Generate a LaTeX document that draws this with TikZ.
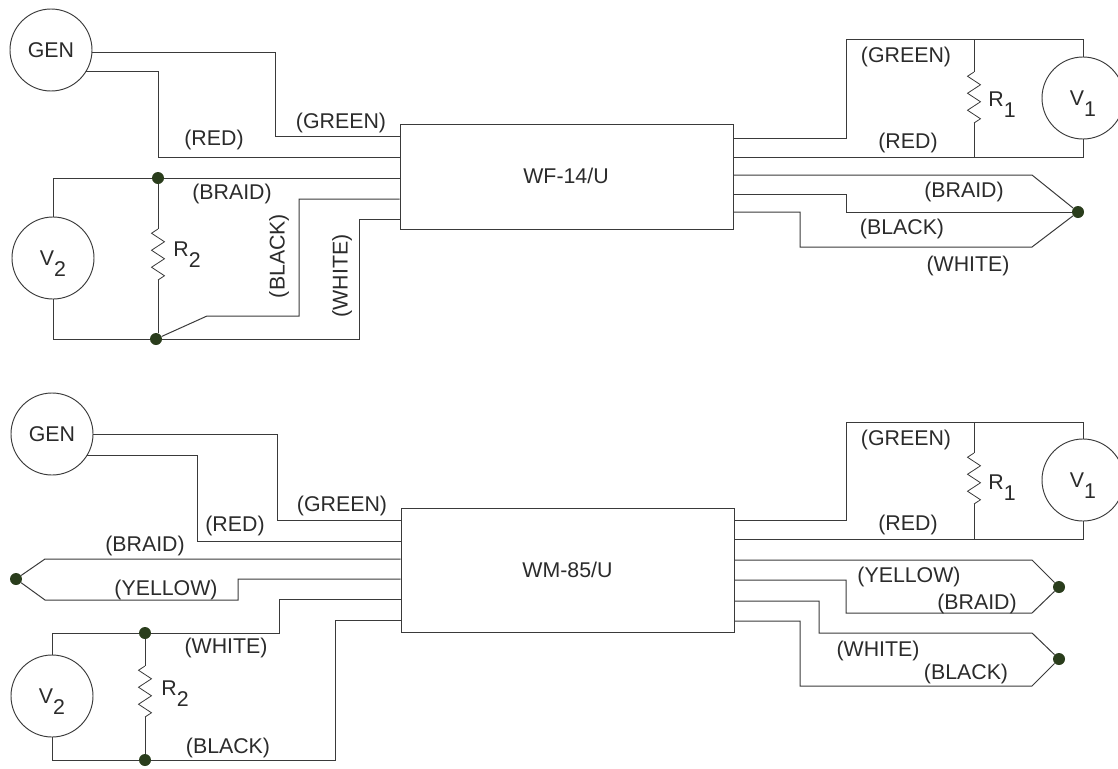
\documentclass[tikz,border=0pt]{standalone}
\usepackage{fontspec}
\setmainfont{Liberation Sans}
\definecolor{wirecol}{HTML}{3A3A3A}
\definecolor{inkcol}{HTML}{2B2B2B}
\definecolor{dotcol}{HTML}{2A3D1C}
\newcommand{\lowsub}[1]{\smash{\raisebox{-8pt}{#1}}}
\tikzset{
	wire/.style={draw=wirecol,line width=0.75pt},
	meter/.style={circle,draw=wirecol,line width=0.7pt,minimum size=61.5pt,inner sep=0pt,fill=white,text=inkcol,font=\fontsize{16}{18}\selectfont},
	unit/.style={rectangle,draw=wirecol,line width=0.75pt,minimum width=249.75pt,inner sep=0pt},
	tag/.style={inner sep=0pt,text=inkcol,yshift=-1.5pt,font=\fontsize{16}{18}\selectfont},
	joint/.style={circle,fill=dotcol,minimum size=9pt,inner sep=0pt},
	zigres/.pic={\draw[wirecol,line width=0.6pt] (0,0) -- ++(-6.5,4.25) -- ++(13,8.5) -- ++(-13,8.5) -- ++(13,8.5) -- ++(-13,8.5) -- ++(13,8.5) -- (0,51);}
}
\begin{document}
\begin{tikzpicture}[x=0.75pt,y=-0.75pt]
	\useasboundingbox (0,0) rectangle (1118,768);
	% upper circuit
	\node[unit,minimum height=78.75pt] (wf) at (566.5,176.5) {};
	\node[tag] (wflabel) at (566,174) {WF-14/U};
	\node[meter] (gena) at (51,50) {GEN};
	\node[meter] (vtwoa) at (53,258) {V\lowsub{2}};
	\node[meter] (vonea) at (1083,98) {V\lowsub{1}};
	\node[joint] (ja) at (158,178) {};
	\node[joint] (jb) at (156,339) {};
	\node[joint] (jc) at (1078,212) {};
	\coordinate (rtwoat) at (158,229);
	\coordinate (rtwoab) at (158,280);
	\coordinate (ronea) at (974,39);
	\coordinate (roneb) at (974,157);
	\draw[wire] (gena.-3) -| (275,136) -- (wf.west |- 0,136);
	\draw[wire] (gena.-32) -| (158,157) -- (wf.west |- 0,157);
	\draw[wire] (vtwoa.north) |- (ja) -- (wf.west |- ja);
	\draw[wire] (vtwoa.south) |- (jb);
	\draw[wire] (jb) -- (207,316) -| (299,199) -- (wf.west |- 0,199);
	\draw[wire] (jb) -- (359,339) -- (359,219) -- (wf.west |- 0,219);
	\draw[wire] (ja) -- (rtwoat) pic {zigres};
	\draw[wire] (rtwoab) -- (jb.north -| rtwoab);
	\draw[wire] (wf.east |- 0,138) -| (846,39) -| (vonea.north);
	\draw[wire] (wf.east |- 0,157) -| (vonea.south);
	\draw[wire] (ronea) -- (974,72) pic {zigres};
	\draw[wire] (974,123) -- (roneb);
	\draw[wire] (wf.east |- 0,175) -- (1032,175) -- (jc);
	\draw[wire] (wf.east |- 0,194) -| (846,212) -- (jc);
	\draw[wire] (wf.east |- 0,212) -| (800,247) -- (1032,247) -- (jc);
	\node[tag] (lgreena) at (341,121) {(GREEN)};
	\node[tag] (lreda) at (214,138) {(RED)};
	\node[tag] (lbraida) at (232,192) {(BRAID)};
	\node[tag,rotate=90,xshift=1.5pt] (lblacka) at (279,256) {(BLACK)};
	\node[tag,rotate=90,xshift=1.5pt] (lwhitea) at (342,276) {(WHITE)};
	\node[tag] (rtwoa) at (187,247) {R\lowsub{2}};
	\node[tag] (lgreenb) at (906,55) {(GREEN)};
	\node[tag] (lredb) at (908,141) {(RED)};
	\node[tag] (ronelabela) at (1002,97) {R\lowsub{1}};
	\node[tag] (lbraidb) at (964,190) {(BRAID)};
	\node[tag] (lblackb) at (902,227) {(BLACK)};
	\node[tag] (lwhiteb) at (968,264) {(WHITE)};
	% lower circuit
	\node[unit,minimum height=93pt] (wm) at (567.5,570) {};
	\node[tag] (wmlabel) at (567.5,568) {WM-85/U};
	\node[meter] (genb) at (52,434) {GEN};
	\node[meter] (vtwob) at (52,696) {V\lowsub{2}};
	\node[meter] (voneb) at (1083,480) {V\lowsub{1}};
	\node[joint] (jd) at (16,579) {};
	\node[joint] (je) at (145,633) {};
	\node[joint] (jf) at (145,760) {};
	\node[joint] (jg) at (1059,587) {};
	\node[joint] (jh) at (1059,659) {};
	\draw[wire] (genb.0) -| (277,520) -- (wm.west |- 0,520);
	\draw[wire] (genb.-32) -| (197,541) -- (wm.west |- 0,541);
	\draw[wire] (jd) -- (45,559) -- (wm.west |- 0,559);
	\draw[wire] (jd) -- (45,600) -| (238,579) -- (wm.west |- 0,579);
	\draw[wire] (vtwob.north) |- (je) -| (279,599) -- (wm.west |- 0,599);
	\draw[wire] (vtwob.south) |- (jf) -| (335,620) -- (wm.west |- 0,620);
	\draw[wire] (je) -- (145,666) pic {zigres};
	\draw[wire] (145,717) -- (jf);
	\draw[wire] (wm.east |- 0,520) -| (846,422) -| (voneb.north);
	\draw[wire] (wm.east |- 0,539) -| (voneb.south);
	\draw[wire] (974,422) -- (974,453) pic {zigres};
	\draw[wire] (974,504) -- (974,539);
	\draw[wire] (wm.east |- 0,560) -- (1032,560) -- (jg);
	\draw[wire] (wm.east |- 0,580) -| (846,613) -- (1032,613) -- (jg);
	\draw[wire] (wm.east |- 0,601) -| (819,633) -- (1032,633) -- (jh);
	\draw[wire] (wm.east |- 0,621) -| (800,686) -- (1032,686) -- (jh);
	\node[tag] (lgreenc) at (342,504) {(GREEN)};
	\node[tag] (lredc) at (235,524) {(RED)};
	\node[tag] (lbraidc) at (145,544) {(BRAID)};
	\node[tag] (lyellowc) at (166,588) {(YELLOW)};
	\node[tag] (lwhitec) at (226,646) {(WHITE)};
	\node[tag] (lblackc) at (228,746) {(BLACK)};
	\node[tag] (rtwob) at (175,686) {R\lowsub{2}};
	\node[tag] (lgreend) at (906,438) {(GREEN)};
	\node[tag] (lredd) at (908,523) {(RED)};
	\node[tag] (ronelabelb) at (1002,480) {R\lowsub{1}};
	\node[tag] (lyellowd) at (909,575) {(YELLOW)};
	\node[tag] (lbraidd) at (977,602) {(BRAID)};
	\node[tag] (lwhited) at (878,649) {(WHITE)};
	\node[tag] (lblackd) at (966,672) {(BLACK)};
\end{tikzpicture}
\end{document}
